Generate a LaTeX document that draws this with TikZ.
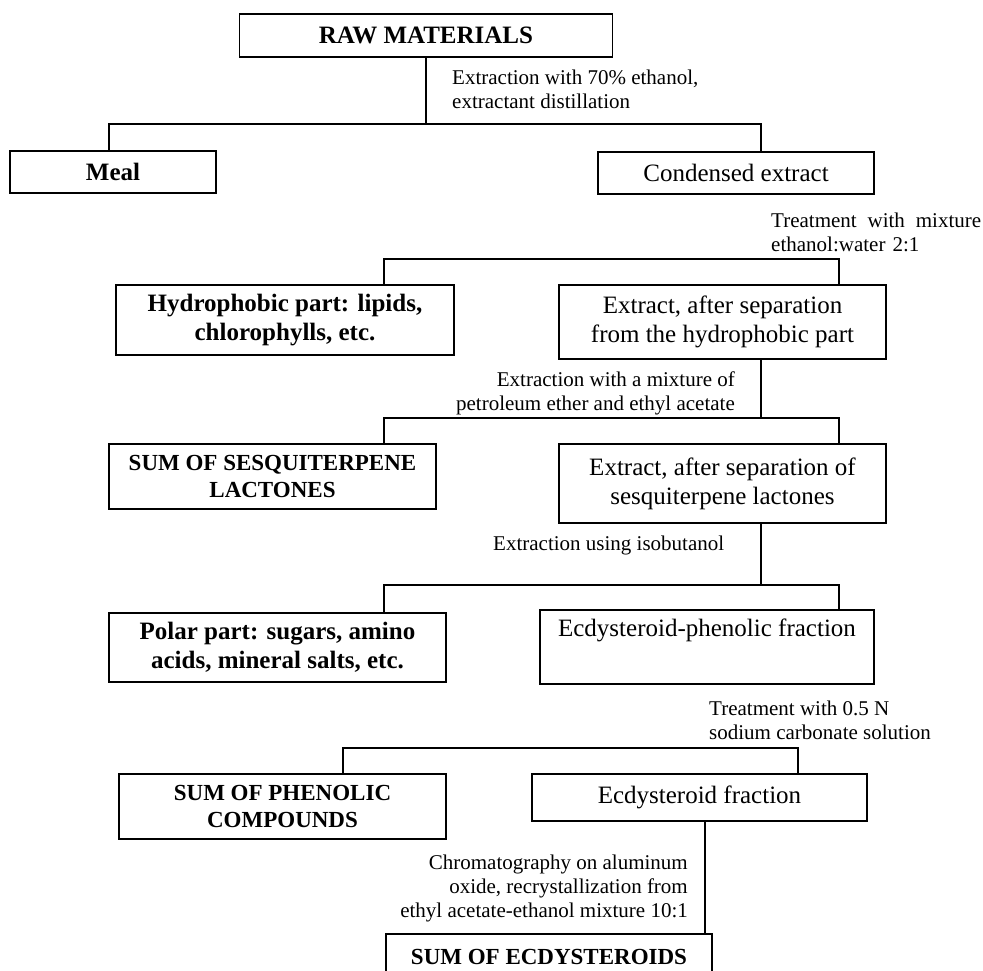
\documentclass[tikz,border=0pt]{standalone}
\usepackage{fontspec}
\setmainfont{Liberation Serif}
\usetikzlibrary{positioning}

\tikzset{
    box/.style={draw, line width=1.2pt, inner sep=0pt, align=center, font=\fontsize{25}{29}\selectfont},
    boldbox/.style={box, font=\fontsize{25}{29}\selectfont\bfseries},
    capsbox/.style={box, font=\fontsize{23}{27}\selectfont\bfseries},
    note/.style={inner sep=0pt, font=\fontsize{21}{24}\selectfont},
    link/.style={line width=1.8pt},
}

\begin{document}
\begin{tikzpicture}[x=1pt, y=-1pt]
    \clip (0,0) rectangle (983,970);
    \fill[white] (0,0) rectangle (983,970);

    % boxes
    \node[boldbox, minimum width=373pt, minimum height=43pt] (raw) at (426,35.5) {RAW MATERIALS};
    \node[boldbox, minimum width=206pt, minimum height=42pt] (meal) at (113,172) {Meal};
    \node[box, minimum width=276pt, minimum height=42pt] (cond) at (736,173) {Condensed extract};
    \node[boldbox, minimum width=338pt, minimum height=70pt] (hydro) at (285,320) {Hydrophobic part: lipids,\\chlorophylls, etc.};
    \node[box, minimum width=327pt, minimum height=74pt] (extr1) at (722.5,322) {Extract, after separation\\from the hydrophobic part};
    \node[capsbox, minimum width=327pt, minimum height=65pt] (sesq) at (272.5,476.5) {SUM OF SESQUITERPENE\\LACTONES};
    \node[box, minimum width=327pt, minimum height=79pt] (extr2) at (722.5,483.5) {Extract, after separation of\\sesquiterpene lactones};
    \node[boldbox, minimum width=337pt, minimum height=69pt] (polar) at (277.5,647.5) {Polar part: sugars, amino\\acids, mineral salts, etc.};
    \node[box, minimum width=334pt, minimum height=74pt] (ecph) at (707,647) {Ecdysteroid-phenolic fraction\\\strut};
    \node[capsbox, minimum width=327pt, minimum height=65pt] (phen) at (282.5,806.5) {SUM OF PHENOLIC\\COMPOUNDS};
    \node[box, minimum width=335pt, minimum height=47pt] (ecfr) at (699.5,797.5) {Ecdysteroid fraction};
    \node[capsbox, minimum width=326pt, minimum height=46pt] (ecdy) at (549,957) {SUM OF ECDYSTEROIDS};

    % step labels (base = last line, or first line with text width)
    \node[note, anchor=base west, align=left] (lab1) at (452,108) {Extraction with 70\% ethanol,\\extractant distillation};
    \node[note, anchor=base west, align=left, text width=210pt] (lab2) at (771,227) {Treatment\hfill with\hfill mixture\\ethanol:water 2:1};
    \node[note, anchor=base east, align=right] (lab3) at (735,410) {Extraction with a mixture of\\petroleum ether and ethyl acetate};
    \node[note, anchor=base west] (lab4) at (493,550) {Extraction using isobutanol};
    \node[note, anchor=base west, align=left] (lab5) at (709,739) {Treatment with 0.5 N\\sodium carbonate solution};
    \node[note, anchor=base east, align=right] (lab6) at (688,917) {Chromatography on aluminum\\oxide, recrystallization from\\ethyl acetate-ethanol mixture 10:1};

    % split bars
    \coordinate (s1l) at (109,124); \coordinate (s1r) at (761,124);
    \coordinate (s2l) at (384,259); \coordinate (s2r) at (839,259);
    \coordinate (s3l) at (384,418); \coordinate (s3m) at (761,418); \coordinate (s3r) at (839,418);
    \coordinate (s4l) at (384,585); \coordinate (s4m) at (761,585); \coordinate (s4r) at (839,585);
    \coordinate (s5l) at (343,748); \coordinate (s5r) at (798,748);
    \coordinate (s6) at (705,900);

    \draw[link] (raw.south) -- (raw.south |- s1l);
    \draw[link] (meal.north -| s1l) -- (s1l) -- (s1r) -- (cond.north -| s1r);
    \draw[link] (hydro.north -| s2l) -- (s2l) -- (s2r) -- (extr1.north -| s2r);
    \draw[link] (extr1.south -| s3m) -- (s3m);
    \draw[link] (sesq.north -| s3l) -- (s3l) -- (s3r) -- (extr2.north -| s3r);
    \draw[link] (extr2.south -| s4m) -- (s4m);
    \draw[link] (polar.north -| s4l) -- (s4l) -- (s4r) -- (ecph.north -| s4r);
    \draw[link] (phen.north -| s5l) -- (s5l) -- (s5r) -- (ecfr.north -| s5r);
    \draw[link] (ecfr.south -| s6) -- (ecdy.north -| s6);
\end{tikzpicture}
\end{document}
